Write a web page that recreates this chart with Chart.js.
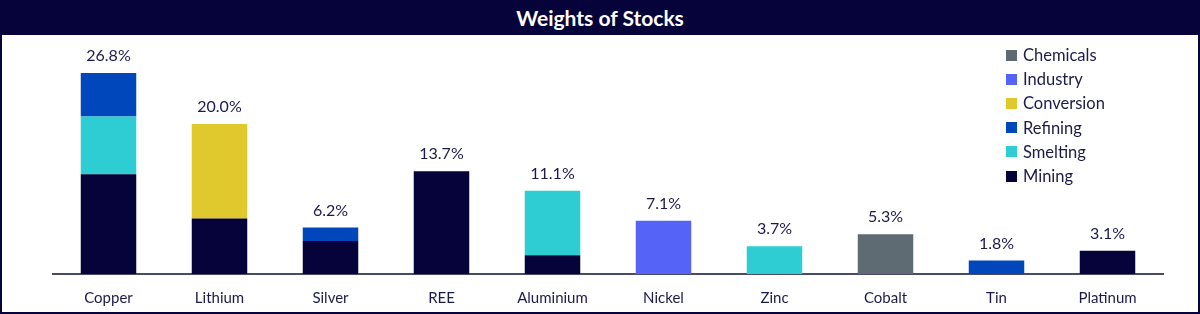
<!DOCTYPE html>
<html>
<head>
<meta charset="utf-8">
<script src="https://cdn.jsdelivr.net/npm/chart.js@4.4.1/dist/chart.umd.min.js"></script>
<style>
  html, body { margin: 0; padding: 0; background: #fff; }
  #frame {
    position: relative;
    width: 1200px; height: 314px;
    box-sizing: border-box;
    border: 2px solid #05033a;
    border-top: none;
    font-family: 'Lato', sans-serif;
  }
  #title {
    height: 35px; line-height: 35px;
    background: #05033a; color: #fff;
    text-align: center; font-weight: bold; font-size: 21px;
  }
  #wrap { position: absolute; left: 0; top: 35px; width: 1196px; height: 277px; }
  #legend {
    position: absolute; left: 1004px; top: 43px;
    list-style: none; margin: 0; padding: 0;
    color: #1c1a4a; font-size: 16.5px;
  }
  #legend li { height: 24.2px; line-height: 20px; display: flex; align-items: center; }
  #legend span.box { width: 11px; height: 11px; margin-right: 6px; display: inline-block; }
</style>
</head>
<body>
<div id="frame">
  <div id="title">Weights of Stocks</div>
  <div id="wrap"><canvas id="chart"></canvas></div>
  <ul id="legend"></ul>
</div>
<script>
// categories and stage weights (%)
const metals = ['Copper', 'Lithium', 'Silver', 'REE', 'Aluminium', 'Nickel', 'Zinc', 'Cobalt', 'Tin', 'Platinum'];
const mining     = [13.3, 7.4, 4.4, 13.7, 2.5, 0, 0, 0, 0, 3.1];
const smelting   = [7.7, 0, 0, 0, 8.6, 0, 3.7, 0, 0, 0];
const refining   = [5.8, 0, 1.8, 0, 0, 0, 0, 0, 1.8, 0];
const conversion = [0, 12.6, 0, 0, 0, 0, 0, 0, 0, 0];
const industry   = [0, 0, 0, 0, 0, 7.1, 0, 0, 0, 0];
const chemicals  = [0, 0, 0, 0, 0, 0, 0, 5.3, 0, 0];
const totals     = [26.8, 20.0, 6.2, 13.7, 11.1, 7.1, 3.7, 5.3, 1.8, 3.1];

const textColor = '#1c1a4a';

const datasets = [
  { label: 'Mining', data: mining, backgroundColor: '#05033a' },
  { label: 'Smelting', data: smelting, backgroundColor: '#2ecdd3' },
  { label: 'Refining', data: refining, backgroundColor: '#0047bb' },
  { label: 'Conversion', data: conversion, backgroundColor: '#e0c92c' },
  { label: 'Industry', data: industry, backgroundColor: '#5563f7' },
  { label: 'Chemicals', data: chemicals, backgroundColor: '#5f6b73' },
];

// draw the total above each stacked bar
const totalLabels = {
  id: 'totalLabels',
  afterDatasetsDraw(chart) {
    const { ctx, scales: { x, y } } = chart;
    ctx.save();
    ctx.font = '16px Lato';
    ctx.fillStyle = textColor;
    ctx.textAlign = 'center';
    ctx.textBaseline = 'middle';
    totals.forEach((t, i) => {
      ctx.fillText(t.toFixed(1) + '%', x.getPixelForValue(i), y.getPixelForValue(t) - 17);
    });
    ctx.restore();
  },
};

const chart = new Chart(document.getElementById('chart'), {
  type: 'bar',
  data: {
    labels: metals,
    datasets: datasets.map((d) => ({
      ...d,
      barPercentage: 0.5,
      categoryPercentage: 1,
    })),
  },
  options: {
    responsive: true,
    maintainAspectRatio: false,
    animation: false,
    layout: { padding: { top: 14, left: 51, right: 35, bottom: -2 } },
    plugins: { legend: { display: false }, tooltip: { enabled: false } },
    scales: {
      x: {
        stacked: true,
        grid: { display: false },
        border: { color: '#4a4a6a', width: 2 },
        ticks: { color: textColor, font: { family: 'Lato', size: 15 }, padding: 7 },
      },
      y: { stacked: true, display: false, min: 0, max: 30 },
    },
  },
  plugins: [totalLabels],
});

// legend, top category first
const legend = document.getElementById('legend');
datasets.slice().reverse().forEach((d) => {
  const li = document.createElement('li');
  li.innerHTML = '<span class="box" style="background:' + d.backgroundColor + '"></span>' + d.label;
  legend.appendChild(li);
});
</script>
</body>
</html>
